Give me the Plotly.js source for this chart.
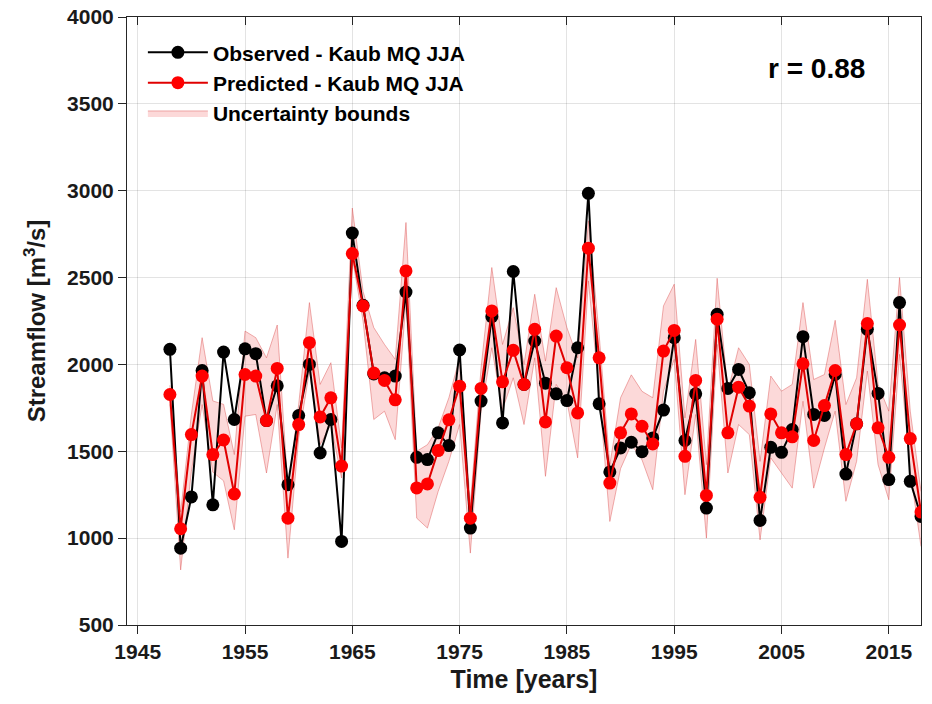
<!DOCTYPE html>
<html>
<head>
<meta charset="utf-8">
<script src="https://cdn.plot.ly/plotly-3.0.1.min.js"></script>
<style>html,body{margin:0;padding:0;background:#fff;}#chart{width:932px;height:704px;}</style>
</head>
<body>
<div id="chart"></div>
<script>
const years = [1948,1949,1950,1951,1952,1953,1954,1955,1956,1957,1958,1959,1960,1961,1962,1963,1964,1965,1966,1967,1968,1969,1970,1971,1972,1973,1974,1975,1976,1977,1978,1979,1980,1981,1982,1983,1984,1985,1986,1987,1988,1989,1990,1991,1992,1993,1994,1995,1996,1997,1998,1999,2000,2001,2002,2003,2004,2005,2006,2007,2008,2009,2010,2011,2012,2013,2014,2015,2016,2017,2018];

const observed = [2087,942,1237,1965,1192,2071,1683,2090,2062,1677,1877,1308,1706,2000,1490,1683,981,2756,2340,1945,1923,1933,2417,1465,1452,1606,1533,2083,1058,1789,2275,1663,2535,1885,2135,1892,1831,1792,2096,2985,1773,1381,1519,1552,1498,1577,1737,2154,1562,1831,1173,2289,1862,1971,1837,1102,1523,1494,1625,2160,1712,1706,1942,1369,1658,2202,1833,1337,2356,1327,1125];

const predicted = [1827,1054,1596,1933,1481,1565,1254,1942,1933,1677,1977,1115,1654,2125,1698,1808,1415,2638,2337,1950,1908,1796,2538,1289,1312,1504,1681,1875,1115,1862,2308,1900,2081,1885,2202,1669,2163,1981,1721,2669,2038,1317,1606,1715,1644,1542,2077,2196,1471,1908,1246,2260,1606,1869,1760,1235,1715,1606,1583,2004,1562,1763,1965,1481,1658,2235,1635,1465,2227,1573,1150];

const upperBound = [1880,1150,1712,2154,1790,1770,1481,2192,2154,2038,2227,1289,1769,2356,1885,2010,1519,2900,2420,2212,2115,2029,2817,1500,1538,1635,1808,2038,1192,1981,2558,2115,2327,2000,2404,2019,2442,2212,2038,2827,2173,1423,1808,1940,1845,1808,2337,2462,1692,2144,1423,2496,1846,2096,2000,1442,1933,1846,1885,2356,1913,1942,2254,1769,1923,2490,1885,1731,2500,1731,1269];

const lowerBound = [1770,817,1385,1769,1380,1330,1048,1702,1712,1375,1769,885,1577,1962,1538,1654,1346,2615,2250,1683,1731,1567,2365,1115,1058,1269,1442,1654,914,1731,2096,1740,1923,1654,2038,1356,1885,1788,1462,2481,1846,1096,1400,1540,1450,1279,1846,2029,1250,1712,1000,2115,1375,1654,1596,990,1462,1375,1288,1788,1288,1519,1731,1212,1442,1962,1423,1221,2058,1385,952];

const xTickVals = [1945,1955,1965,1975,1985,1995,2005,2015];
const yTickVals = [500,1000,1500,2000,2500,3000,3500,4000];

const FONT = 'Liberation Sans, Arial, sans-serif';

const traces = [
  {x: years, y: upperBound, type: 'scatter', mode: 'lines',
   line: {color: 'rgba(220,80,80,0.45)', width: 1}, showlegend: false, hoverinfo: 'skip'},
  {x: years, y: lowerBound, type: 'scatter', mode: 'lines', fill: 'tonexty',
   fillcolor: 'rgba(245,130,130,0.3)', line: {color: 'rgba(220,80,80,0.45)', width: 1},
   name: 'Uncertainty bounds', legendrank: 3},
  {x: years, y: observed, type: 'scatter', mode: 'lines+markers',
   line: {color: '#000', width: 2}, marker: {color: '#000', size: 13},
   name: 'Observed - Kaub MQ JJA', legendrank: 1},
  {x: years, y: predicted, type: 'scatter', mode: 'lines+markers',
   line: {color: '#e00000', width: 2}, marker: {color: '#ff0000', size: 13},
   name: 'Predicted - Kaub MQ JJA', legendrank: 2},
  {x: [], y: [], xaxis: 'x2', type: 'scatter', showlegend: false, hoverinfo: 'skip'}
];

const layout = {
  width: 932, height: 704,
  margin: {l: 127, r: 11, t: 17, b: 79},
  paper_bgcolor: '#fff', plot_bgcolor: '#fff',
  font: {family: FONT, color: '#000'},
  showlegend: true,
  xaxis: {
    range: [1944, 2018], tickvals: xTickVals, ticktext: xTickVals.map(String),
    showgrid: true, gridcolor: 'rgba(0,0,0,0.11)', gridwidth: 1,
    showline: true, linecolor: '#262626', linewidth: 1, mirror: true,
    ticks: 'outside', ticklen: 8, tickcolor: '#262626',
    tickfont: {family: FONT, size: 21, weight: 'bold', color: '#1a1a1a'},
    zeroline: false,
    title: {text: 'Time [years]', font: {family: FONT, size: 25, weight: 'bold', color: '#1a1a1a'}, standoff: 8}
  },
  xaxis2: {
    overlaying: 'x', side: 'top', anchor: 'y', range: [1944, 2018], tickvals: xTickVals,
    showticklabels: false, ticks: 'inside', ticklen: 8, tickcolor: '#262626',
    showgrid: false, showline: false, zeroline: false
  },
  yaxis: {
    range: [500, 4000], tickvals: yTickVals, ticktext: yTickVals.map(String),
    showgrid: true, gridcolor: 'rgba(0,0,0,0.11)', gridwidth: 1,
    showline: true, linecolor: '#262626', linewidth: 1, mirror: true,
    ticks: 'outside', ticklen: 8, tickcolor: '#262626',
    tickfont: {family: FONT, size: 21, weight: 'bold', color: '#1a1a1a'},
    zeroline: false,
    title: {text: 'Streamflow [m<sup>3</sup>/s]', font: {family: FONT, size: 24, weight: 'bold', color: '#1a1a1a'}, standoff: 14}
  },
  legend: {
    x: 0.02, y: 0.975, xanchor: 'left', yanchor: 'top',
    bgcolor: 'rgba(0,0,0,0)', borderwidth: 0, traceorder: 'normal',
    font: {family: FONT, size: 21, weight: 'bold', color: '#000'},
    itemwidth: 60, tracegroupgap: 0
  },
  annotations: [{
    xref: 'paper', yref: 'paper', x: 0.869, y: 0.916, xanchor: 'center', yanchor: 'middle',
    text: 'r = 0.88', showarrow: false,
    font: {family: FONT, size: 28, weight: 'bold', color: '#000'}
  }]
};

Plotly.newPlot('chart', traces, layout, {staticPlot: true, displayModeBar: false});
</script>
</body>
</html>
